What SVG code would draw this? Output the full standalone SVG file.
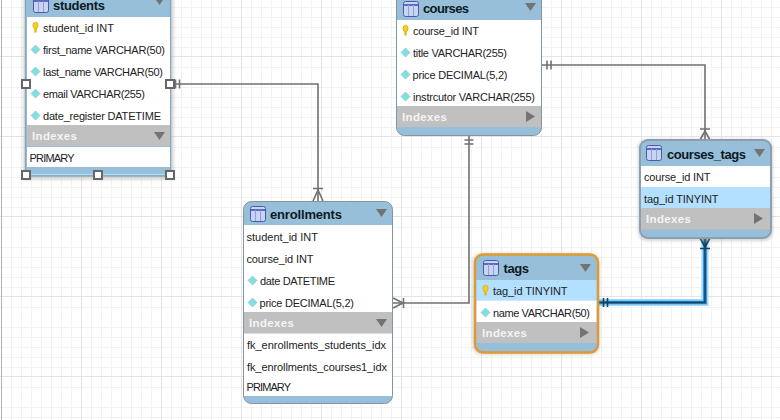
<svg xmlns="http://www.w3.org/2000/svg" width="780" height="420" viewBox="0 0 780 420">
<style>
text{font-family:"Liberation Sans",Arial,sans-serif;font-size:11px;fill:#222}
.title{font-size:13px;font-weight:700;fill:#0c1a24}
.idx{font-size:11.5px;font-weight:700;fill:#f4f4f4}
.box{fill:#98bfd9;stroke:#85939e;stroke-width:1}
.row{fill:#fff}
.sel{fill:#b3e0ff}
.bar{fill:#c0c0c0}
.tri{fill:#737373}
.line{fill:none;stroke:#707070;stroke-width:1.6}
.handle{fill:#fff;stroke:#666;stroke-width:2}
</style>
<defs>
<pattern id="grid" x="1" y="-3" width="80" height="80" patternUnits="userSpaceOnUse">
<path d="M10.5 0V80M20.5 0V80M30.5 0V80M40.5 0V80M50.5 0V80M60.5 0V80M70.5 0V80M0 10.5H80M0 20.5H80M0 30.5H80M0 40.5H80M0 50.5H80M0 70.5H80" fill="none" stroke="#f2f2f2" stroke-width="1"/>
<path d="M0.5 0V80M0 59.5H80" fill="none" stroke="#e4e4e4" stroke-width="1"/>
</pattern>
<filter id="soft" x="-10%" y="-10%" width="120%" height="120%"><feGaussianBlur stdDeviation="1.4"/></filter>
<g id="tbl">
<rect x="0.5" y="0.5" width="15" height="15" rx="2" fill="#c9d4f2" stroke="#4a5aa8"/>
<path d="M1 4H15" stroke="#5a6cc0" stroke-width="2"/>
<path d="M5.5 4V15M10.5 4V15" stroke="#8f9fdc" stroke-width="1"/>
</g>
<g id="key">
<ellipse cx="3.5" cy="3.4" rx="2.6" ry="3.2" fill="#f4d21c" stroke="#d3a90e" stroke-width=".7"/>
<path d="M3.5 6V10.5" stroke="#e0b80f" stroke-width="2.4"/>
</g>
<path id="dia" d="M4.5 0L9 4.5L4.5 9L0 4.5Z" fill="#7fe0e0" stroke="#9fc4cc" stroke-width=".8"/>
<path id="down" class="tri" d="M0 0H11L5.5 8Z"/>
<path id="right" class="tri" d="M0 0L9 5.5L0 11Z"/>
</defs>

<rect width="780" height="420" fill="#fff"/>
<rect width="780" height="420" fill="url(#grid)"/>
<path d="M1.5 0V420" stroke="#b2b2b2" stroke-width="1"/>

<g id="connectors">
<path class="line" d="M170 84H318V201"/>
<path class="line" d="M175.500 79.500V88.500M179.500 79.500V88.500M313 188.500H323M313 201L318 190L323 201"/>
<path class="line" d="M542 65H705V140"/>
<path class="line" d="M547 60.500V69.500M551 60.500V69.500M700 129H710M700 140L705 131L710 140"/>
<path class="line" d="M469 136V303H393"/>
<path class="line" d="M464.500 140H473.500M464.500 144H473.500M403.500 298V308M393 298L403 303L393 308"/>
<g id="selected-link">
<path d="M598 302.500H705V238" fill="none" stroke="#9ed8ff" stroke-width="7"/>
<path d="M598 302.500H705V238" fill="none" stroke="#1f8ad2" stroke-width="3.600"/>
<path d="M598 302.500H705V238" fill="none" stroke="#1d3f58" stroke-width="1.400"/>
<path d="M603.500 298V307M607.500 298V307M700 248.500H710M700 238L705 247L710 238" fill="none" stroke="#1d3f58" stroke-width="1.600"/>
</g>
</g>

<g id="students">
<rect x="23" y="-8" width="151" height="188" fill="#8a8a8a" opacity=".3" filter="url(#soft)"/>
<rect x="25.500" y="-12" width="145" height="188" fill="#98bfd9" stroke="#86a8bc" stroke-width="1.400"/>
<path d="M27 174.500H169" stroke="#a6e0f2" stroke-width="1"/>
<rect class="row" x="27" y="17" width="143" height="108"/>
<rect class="bar" x="27" y="125" width="143" height="21"/>
<rect class="row" x="27" y="147" width="143" height="20"/>
<use href="#tbl" x="33" y="-3"/>
<text class="title" x="53" y="10" textLength="52">students</text>
<use href="#down" x="154" y="-3"/>
<use href="#key" x="32" y="22"/>
<text x="43" y="32" textLength="71">student_id INT</text>
<use href="#dia" x="31" y="45"/><text x="43" y="54" textLength="122">first_name VARCHAR(50)</text>
<use href="#dia" x="31" y="67"/><text x="43" y="76" textLength="120">last_name VARCHAR(50)</text>
<use href="#dia" x="31" y="89"/><text x="43" y="98" textLength="102">email VARCHAR(255)</text>
<use href="#dia" x="31" y="111"/><text x="43" y="120" textLength="118">date_register DATETIME</text>
<text class="idx" x="32" y="140" textLength="45">Indexes</text>
<use href="#down" x="154" y="132"/>
<text x="29.500" y="162" textLength="45">PRIMARY</text>
<g class="handle">
<rect x="22" y="80" width="8" height="8"/><rect x="166" y="80" width="8" height="8"/>
<rect x="22" y="171" width="8" height="8"/><rect x="94" y="171" width="8" height="8"/><rect x="166" y="171" width="8" height="8"/>
</g>
</g>

<g id="courses">
<rect class="box" x="396.500" y="-12" width="145" height="147.500" rx="8"/>
<rect class="row" x="397" y="20" width="144" height="86"/>
<rect class="bar" x="397" y="106" width="144" height="21"/>
<use href="#tbl" x="403" y="1"/>
<text class="title" x="423" y="13" textLength="46">courses</text>
<use href="#down" x="525" y="3"/>
<use href="#key" x="402" y="25"/>
<text x="413" y="35" textLength="66">course_id INT</text>
<use href="#dia" x="401" y="48"/><text x="413" y="57" textLength="94">title VARCHAR(255)</text>
<use href="#dia" x="401" y="70"/><text x="412.500" y="79" textLength="95">price DECIMAL(5,2)</text>
<use href="#dia" x="401" y="92"/><text x="413" y="101" textLength="122">instrcutor VARCHAR(255)</text>
<text class="idx" x="402" y="121" textLength="45">Indexes</text>
<use href="#right" x="526" y="111"/>
</g>

<g id="enrollments">
<rect class="box" x="243.500" y="201.500" width="149" height="202" rx="8"/>
<rect class="row" x="244" y="225" width="148" height="87"/>
<rect class="bar" x="244" y="312" width="148" height="21.500"/>
<rect class="row" x="244" y="333.500" width="148" height="62.500"/>
<use href="#tbl" x="250" y="206"/>
<text class="title" x="270" y="219" textLength="72">enrollments</text>
<use href="#down" x="376" y="209"/>
<text x="246.500" y="241" textLength="71.500">student_id INT</text>
<text x="246.500" y="263" textLength="67">course_id INT</text>
<use href="#dia" x="248" y="276"/><text x="260" y="285" textLength="75">date DATETIME</text>
<use href="#dia" x="248" y="298"/><text x="259.500" y="307" textLength="94.500">price DECIMAL(5,2)</text>
<text class="idx" x="249" y="327" textLength="45">Indexes</text>
<use href="#down" x="376" y="319"/>
<text x="247" y="349" textLength="139">fk_enrollments_students_idx</text>
<text x="247" y="371" textLength="140">fk_enrollments_courses1_idx</text>
<text x="246.500" y="391" textLength="44.500">PRIMARY</text>
</g>

<g id="courses_tags">
<rect x="638" y="139" width="135" height="102" rx="9" fill="#8a8a8a" opacity=".35" filter="url(#soft)"/>
<rect x="640" y="140" width="131" height="98" rx="8" fill="#98bfd9" stroke="#8aa0b0" stroke-width="2"/>
<rect class="row" x="641" y="166" width="129" height="21"/>
<rect class="sel" x="641" y="187" width="129" height="21"/>
<rect class="bar" x="641" y="208" width="129" height="21.500"/>
<use href="#tbl" x="646" y="145"/>
<text class="title" x="667" y="159" textLength="79">courses_tags</text>
<use href="#down" x="754" y="149"/>
<text x="644" y="181" textLength="66.500">course_id INT</text>
<text x="644" y="203" textLength="74.500">tag_id TINYINT</text>
<text class="idx" x="646" y="223" textLength="45">Indexes</text>
<use href="#right" x="754" y="213"/>
</g>

<g id="tags">
<rect x="472" y="253" width="128" height="102" rx="9" fill="#8a8a8a" opacity=".3" filter="url(#soft)"/>
<rect x="475" y="254.500" width="123" height="98" rx="8" fill="#98bfd9" stroke="#e09a30" stroke-width="2.400"/>
<rect class="sel" x="476.500" y="280" width="120" height="20.500"/>
<rect class="row" x="476.500" y="300.500" width="120" height="21.500"/>
<rect class="bar" x="476.500" y="322" width="120" height="21"/>
<use href="#tbl" x="483" y="260"/>
<text class="title" x="503.500" y="273" textLength="25.500">tags</text>
<use href="#down" x="580" y="264"/>
<use href="#key" x="482" y="285"/>
<text x="493" y="295" textLength="74.500">tag_id TINYINT</text>
<use href="#dia" x="481" y="308"/><text x="493" y="317" textLength="97">name VARCHAR(50)</text>
<text class="idx" x="482" y="337" textLength="45">Indexes</text>
<use href="#right" x="580" y="327"/>
</g>
</svg>
